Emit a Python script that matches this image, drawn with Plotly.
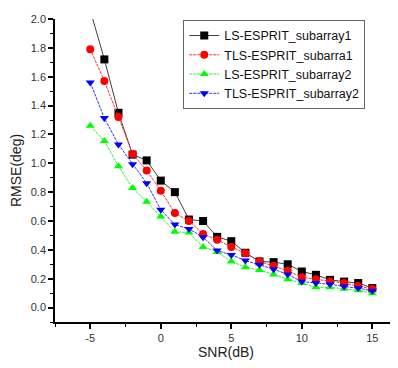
import plotly.graph_objects as go

snr = list(range(-5, 16))

ls_sub1 = [2.06, 1.72, 1.35, 1.06, 1.02, 0.88, 0.80, 0.61, 0.60, 0.49, 0.46, 0.38, 0.32, 0.315, 0.30, 0.25, 0.227, 0.192, 0.18, 0.17, 0.135]
tls_sub1 = [1.79, 1.57, 1.32, 1.065, 0.95, 0.81, 0.655, 0.60, 0.51, 0.47, 0.42, 0.377, 0.32, 0.29, 0.255, 0.21, 0.197, 0.18, 0.17, 0.15, 0.128]
ls_sub2 = [1.26, 1.155, 0.98, 0.828, 0.733, 0.632, 0.525, 0.52, 0.42, 0.385, 0.32, 0.28, 0.26, 0.23, 0.197, 0.17, 0.14, 0.14, 0.13, 0.12, 0.10]
tls_sub2 = [1.56, 1.313, 1.13, 0.994, 0.862, 0.678, 0.575, 0.545, 0.488, 0.395, 0.365, 0.326, 0.296, 0.266, 0.23, 0.18, 0.17, 0.162, 0.146, 0.135, 0.116]

series_names = ["LS-ESPRIT_subarray1", "TLS-ESPRIT_subarra1", "LS-ESPRIT_subarray2", "TLS-ESPRIT_subarray2"]
x_tickvals = [-5, 0, 5, 10, 15]
x_ticktext = ["-5", "0", "5", "10", "15"]

styles = [
    dict(line_color="#404040", marker_color="black", symbol="square", dash="solid"),
    dict(line_color="#ff3030", marker_color="#ff0000", symbol="circle", dash="3px,1px"),
    dict(line_color="#33ee33", marker_color="#00ff00", symbol="triangle-up", dash="3px,1px"),
    dict(line_color="#3333ff", marker_color="#0000ff", symbol="triangle-down", dash="3px,1px"),
]

fig = go.Figure()
for name, ys, st in zip(series_names, [ls_sub1, tls_sub1, ls_sub2, tls_sub2], styles):
    fig.add_trace(go.Scatter(
        x=snr, y=ys, name=name, mode="lines+markers",
        line=dict(color=st["line_color"], width=1, dash=st["dash"]),
        marker=dict(symbol=st["symbol"], color=st["marker_color"], size=8,
                    line=dict(width=0)),
    ))

axis_font = dict(family="Arial, Liberation Sans, sans-serif", size=11, color="#333")

fig.update_layout(
    width=390, height=360,
    margin=dict(l=47, r=1, t=11, b=46),
    paper_bgcolor="white", plot_bgcolor="white",
    font=dict(family="Arial, Liberation Sans, sans-serif", color="#222"),
    showlegend=True,
    legend=dict(
        x=0.375, y=0.997, xanchor="left", yanchor="top",
        bgcolor="white", bordercolor="#666", borderwidth=1,
        font=dict(family="Arial, Liberation Sans, sans-serif", size=12.5, color="#111"),
        tracegroupgap=0, itemwidth=30,
    ),
    xaxis=dict(
        range=[-7.5, 16.75], showgrid=False, zeroline=False, automargin=False,
        showline=True, linecolor="black", linewidth=1.5,
        ticks="outside", ticklen=5, tickwidth=1.5, tickcolor="black",
        tickvals=x_tickvals, ticktext=x_ticktext, tickfont=axis_font,
        minor=dict(ticks="outside", ticklen=3, tickwidth=1.2, tickcolor="black",
                   dtick=2.5, tick0=0, showgrid=False),
        title=dict(text="SNR(dB)", font=dict(size=14, color="#222"), standoff=2),
    ),
    yaxis=dict(
        range=[-0.1, 2.0], showgrid=False, zeroline=False, automargin=False,
        showline=True, linecolor="black", linewidth=1.5,
        ticks="outside", ticklen=5, tickwidth=1.5, tickcolor="black",
        dtick=0.2, tick0=0, tickformat=".1f", tickfont=axis_font,
        minor=dict(ticks="outside", ticklen=3, tickwidth=1.2, tickcolor="black",
                   dtick=0.1, tick0=0, showgrid=False),
        title=dict(text="RMSE(deg)", font=dict(size=14, color="#222"), standoff=8),
    ),
)

fig.write_html("out.html")
